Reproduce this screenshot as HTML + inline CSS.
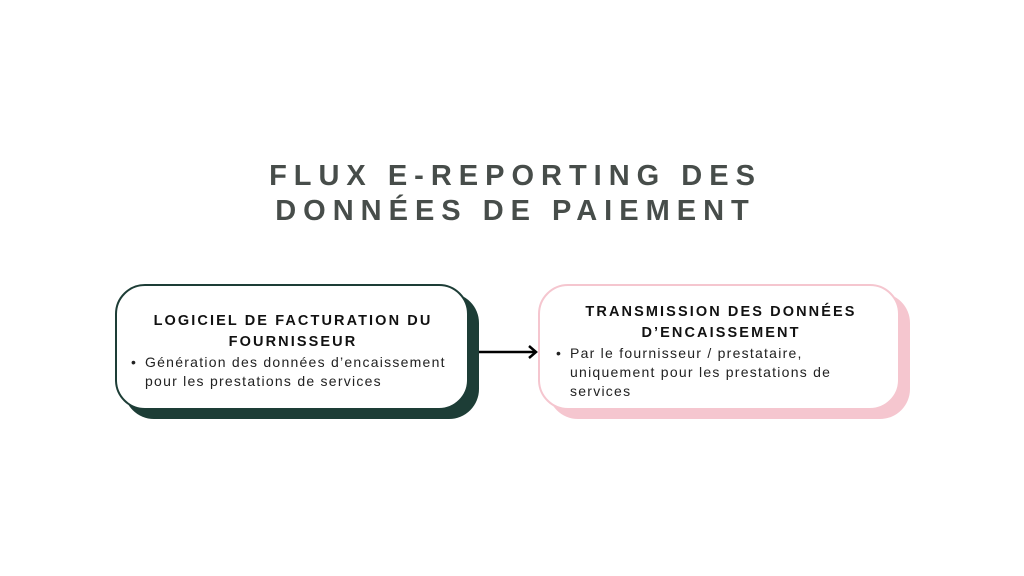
<!DOCTYPE html>
<html><head><style>
body{margin:0;width:1024px;height:576px;background:#fff;position:relative;overflow:hidden;font-family:"Liberation Sans",sans-serif}
.t{position:absolute;left:0;width:1024px;text-align:center;font-weight:bold;font-size:29px;letter-spacing:7px;color:#474d4a;line-height:35px;padding-left:7px;box-sizing:border-box}
.sh{position:absolute;border-radius:30px}
.b{position:absolute;border-radius:30px;background:#fff;box-sizing:border-box}
.h{font-weight:bold;font-size:14.5px;letter-spacing:2.1px;color:#111;text-align:center;line-height:21px;white-space:nowrap}
.p{font-size:14px;letter-spacing:1.25px;color:#222;line-height:19px;position:relative;padding-left:16px;white-space:nowrap}
.p:before{content:"•";position:absolute;left:2px}
</style></head><body>
<div class="t" style="top:159px">FLUX E-REPORTING DES</div>
<div class="t" style="top:194px">DONNÉES DE PAIEMENT</div>
<div class="sh" style="left:124px;top:293px;width:355px;height:126px;background:#1d3d36"></div>
<div class="b" style="left:115px;top:284px;width:354px;height:126px;border:2.5px solid #1d3d36;padding:25px 10px 0 12px">
<div class="h">LOGICIEL DE FACTURATION DU<br>FOURNISSEUR</div>
<div class="p">Génération des données d’encaissement<br>pour les prestations de services</div>
</div>
<div class="sh" style="left:548px;top:293px;width:362px;height:126px;background:#f5c6cf"></div>
<div class="b" style="left:538px;top:284px;width:362px;height:126px;border:2px solid #f5c6cf;padding:16px 10px 0 14px">
<div class="h">TRANSMISSION DES DONNÉES<br>D’ENCAISSEMENT</div>
<div class="p">Par le fournisseur / prestataire,<br>uniquement pour les prestations de<br>services</div>
</div>
<svg style="position:absolute;left:0;top:0" width="1024" height="576">
<line x1="479" y1="352" x2="536" y2="352" stroke="#000" stroke-width="2.5"/>
<polyline points="529,346 536,352 529,358" fill="none" stroke="#000" stroke-width="2.5"/>
</svg>
</body></html>
